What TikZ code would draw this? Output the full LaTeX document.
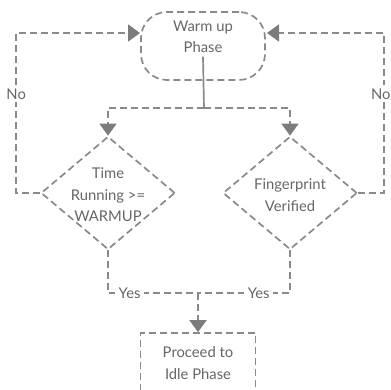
\documentclass[tikz,border=0pt]{standalone}
\usepackage{fontspec}
\setmainfont{Lato}
\usetikzlibrary{arrows.meta,shapes.geometric}
\definecolor{FlowLine}{HTML}{8A8A8A}
\definecolor{FlowText}{HTML}{666666}
\definecolor{FlowTip}{HTML}{7C7C7C}

\begin{document}
\begin{tikzpicture}[x=1pt,y=-1pt,
    flowline/.style={FlowLine,line width=1.7pt,dash pattern=on 7pt off 4pt},
    flowtip/.style={-{Triangle[width=17pt,length=12pt,color=FlowTip]}},
    txt/.style={text=FlowText,font=\fontsize{14.8}{21.5}\selectfont,align=center},
    decision/.style={flowline,draw,diamond,minimum width=134pt,minimum height=113pt,inner sep=0pt}]
  \useasboundingbox (0,0) rectangle (391,390);
  % boxes
  \node[flowline,draw,rounded corners=26pt,minimum width=124pt,minimum height=68pt] (warm) at (203,46) {};
  \node[txt] (warmtxt) at (203,37) {Warm up\\Phase};
  \node[decision] (time) at (108,193) {};
  \node[txt] at (108,195) {Time\\Running >=\\WARMUP};
  \node[decision] (finger) at (290,193) {};
  \node[txt] at (290,195) {Fingerprint\\Verified};
  \node[flowline,draw,minimum width=115pt,minimum height=60pt] (idle) at (198,363) {};
  \node[txt] at (idle) {Proceed to\\Idle Phase};
  % connectors
  \coordinate (split) at (204,108);
  \coordinate (join) at (198,293);
  \coordinate (backL) at (140,33);
  \coordinate (backR) at (267,33);
  \draw[FlowLine,line width=1.7pt] (warmtxt.south) -- (split);
  \draw[flowline,flowtip] (split) -| (time.north);
  \draw[flowline,flowtip] (split) -| (finger.north);
  \draw[flowline,flowtip] (time.west) -- ++(-24,0) |- node[txt,fill=white,pos=0.31] {No} (backL);
  \draw[flowline,flowtip] (finger.east) -- ++(26,0) |- node[txt,fill=white,pos=0.31,xshift=-3pt,inner xsep=1pt] {No} (backR);
  \draw[flowline] (time.south) |- node[txt,fill=white,pos=0.62] {Yes} (join);
  \draw[flowline] (finger.south) |- node[txt,fill=white,pos=0.67] {Yes} (join);
  \draw[flowline,flowtip] (join) -- (idle.north);
\end{tikzpicture}
\end{document}
